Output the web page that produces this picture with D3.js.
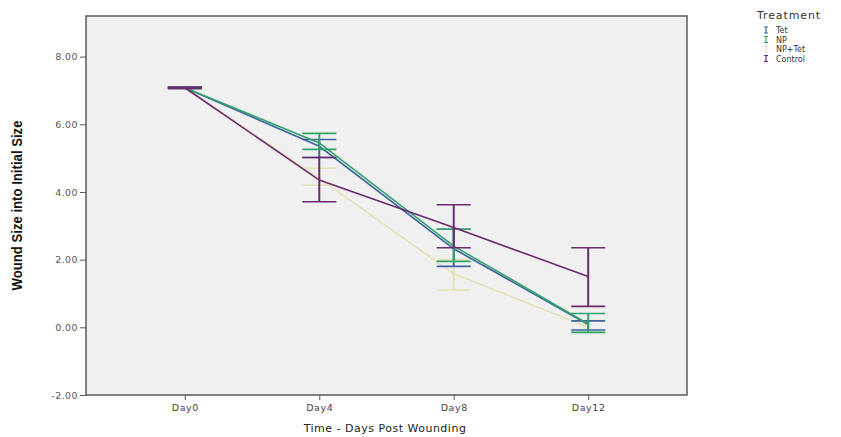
<!DOCTYPE html>
<html>
<head>
<meta charset="utf-8">
<script src="https://cdn.jsdelivr.net/npm/d3@7"></script>
<style>
  body { margin: 0; background: #fff; }
  svg { display: block; }
</style>
</head>
<body>
<div id="chart"></div>
<script>
const days = ["Day0", "Day4", "Day8", "Day12"];
const yTicks = [-2, 0, 2, 4, 6, 8];

const tetMean = [7.08, 5.35, 2.32, 0.08];
const tetLo = [7.06, 5.02, 1.80, -0.08];
const tetHi = [7.10, 5.55, 2.90, 0.19];

const npMean = [7.08, 5.45, 2.40, 0.10];
const npLo = [7.06, 5.26, 1.95, -0.15];
const npHi = [7.10, 5.73, 2.90, 0.41];

const npTetMean = [7.08, 4.40, 1.58, 0.0];
const npTetLo = [7.06, 4.20, 1.10, -0.15];
const npTetHi = [7.10, 4.70, 2.00, 0.20];

const ctrlMean = [7.08, 4.35, 2.95, 1.50];
const ctrlLo = [7.06, 3.71, 2.35, 0.62];
const ctrlHi = [7.10, 5.02, 3.62, 2.35];

const series = [
  { name: "Tet", color: "#3f63a0", mean: tetMean, lo: tetLo, hi: tetHi },
  { name: "NP", color: "#2ea36a", mean: npMean, lo: npLo, hi: npHi },
  { name: "NP+Tet", color: "#e6e2b8", mean: npTetMean, lo: npTetLo, hi: npTetHi },
  { name: "Control", color: "#6b2a6e", mean: ctrlMean, lo: ctrlLo, hi: ctrlHi }
];

const width = 841, height = 437;
const plot = { left: 86, top: 16, right: 687, bottom: 395 };

const svg = d3.select("#chart")
  .append("svg")
  .attr("width", width)
  .attr("height", height);

const x = d3.scalePoint()
  .domain(days)
  .range([plot.left, plot.right])
  .padding(0.735);

const y = d3.scaleLinear()
  .domain([-2, 9.2])
  .range([plot.bottom, plot.top]);

// plot background
svg.append("rect")
  .attr("x", plot.left)
  .attr("y", plot.top)
  .attr("width", plot.right - plot.left)
  .attr("height", plot.bottom - plot.top)
  .attr("fill", "#f0f0f0")
  .attr("stroke", "#5a5a5a")
  .attr("stroke-width", 1.5);

// y axis
const yAxis = svg.append("g")
  .attr("transform", `translate(${plot.left},0)`)
  .call(d3.axisLeft(y).tickValues(yTicks).tickSize(6).tickFormat((d) => d.toFixed(2)));
yAxis.select(".domain").remove();
yAxis.selectAll("line").attr("stroke", "#555");
yAxis.selectAll("text")
  .attr("fill", "#555")
  .style("font-family", "DejaVu Sans, sans-serif")
  .style("font-size", "9.5px")
  .style("letter-spacing", "0.4px")
  .attr("x", -8);

// x axis
const xAxis = svg.append("g")
  .attr("transform", `translate(0,${plot.bottom})`)
  .call(d3.axisBottom(x).tickSize(5));
xAxis.select(".domain").remove();
xAxis.selectAll("line").attr("stroke", "#555");
xAxis.selectAll("text")
  .attr("fill", "#444")
  .style("font-family", "DejaVu Sans, sans-serif")
  .style("font-size", "9.5px")
  .style("letter-spacing", "0.6px")
  .attr("y", 9);

// axis titles
svg.append("text")
  .attr("transform", `translate(22,${(plot.top + plot.bottom) / 2}) rotate(-90)`)
  .attr("text-anchor", "middle")
  .attr("textLength", 170)
  .attr("lengthAdjust", "spacingAndGlyphs")
  .style("font-family", "Liberation Sans, Arial, sans-serif")
  .style("font-weight", "bold")
  .style("font-size", "14px")
  .attr("fill", "#111")
  .text("Wound Size into Initial Size");

svg.append("text")
  .attr("x", 385)
  .attr("y", 432)
  .attr("text-anchor", "middle")
  .style("font-family", "DejaVu Sans, sans-serif")
  .style("font-size", "11px")
  .style("letter-spacing", "0.5px")
  .attr("fill", "#222")
  .text("Time - Days Post Wounding");

// lines
const line = d3.line()
  .x((d, i) => x(days[i]))
  .y((d) => y(d));

const capW = 17;

// draw order: NP+Tet, Tet, NP, Control
const order = [2, 0, 1, 3];
order.forEach((k) => {
  const s = series[k];
  const g = svg.append("g").attr("class", "series-" + k);
  g.append("path")
    .datum(s.mean)
    .attr("fill", "none")
    .attr("stroke", s.color)
    .attr("stroke-width", 1.6)
    .attr("d", line);

  const bars = g.selectAll("g.bar")
    .data(days)
    .join("g")
    .attr("class", "bar");

  bars.append("line")
    .attr("x1", (d) => x(d))
    .attr("x2", (d) => x(d))
    .attr("y1", (d, i) => y(s.lo[i]))
    .attr("y2", (d, i) => y(s.hi[i]))
    .attr("stroke", s.color)
    .attr("stroke-width", 2);

  bars.append("line")
    .attr("x1", (d) => x(d) - capW)
    .attr("x2", (d) => x(d) + capW)
    .attr("y1", (d, i) => y(s.hi[i]))
    .attr("y2", (d, i) => y(s.hi[i]))
    .attr("stroke", s.color)
    .attr("stroke-width", 1.6);

  bars.append("line")
    .attr("x1", (d) => x(d) - capW)
    .attr("x2", (d) => x(d) + capW)
    .attr("y1", (d, i) => y(s.lo[i]))
    .attr("y2", (d, i) => y(s.lo[i]))
    .attr("stroke", s.color)
    .attr("stroke-width", 1.6);
});

// legend
const legend = svg.append("g").attr("transform", "translate(757,0)");
legend.append("text")
  .attr("x", 0)
  .attr("y", 19)
  .style("font-family", "DejaVu Sans, sans-serif")
  .style("font-size", "11px")
  .style("letter-spacing", "0.9px")
  .attr("fill", "#333")
  .text("Treatment");

const items = legend.selectAll("g.item")
  .data(series)
  .join("g")
  .attr("class", "item")
  .attr("transform", (d, i) => `translate(9,${30 + i * 9.5})`);

items.append("line")
  .attr("x1", 0).attr("x2", 0)
  .attr("y1", -3).attr("y2", 3)
  .attr("stroke", (d) => d.color)
  .attr("stroke-width", 1.2);
items.append("line")
  .attr("x1", -2).attr("x2", 2)
  .attr("y1", -3).attr("y2", -3)
  .attr("stroke", (d) => d.color)
  .attr("stroke-width", 1);
items.append("line")
  .attr("x1", -2).attr("x2", 2)
  .attr("y1", 3).attr("y2", 3)
  .attr("stroke", (d) => d.color)
  .attr("stroke-width", 1);
items.append("text")
  .attr("x", 10)
  .attr("y", 3)
  .style("font-family", "DejaVu Sans, sans-serif")
  .style("font-size", "8px")
  .attr("fill", "#333")
  .text((d) => d.name);
</script>
</body>
</html>
